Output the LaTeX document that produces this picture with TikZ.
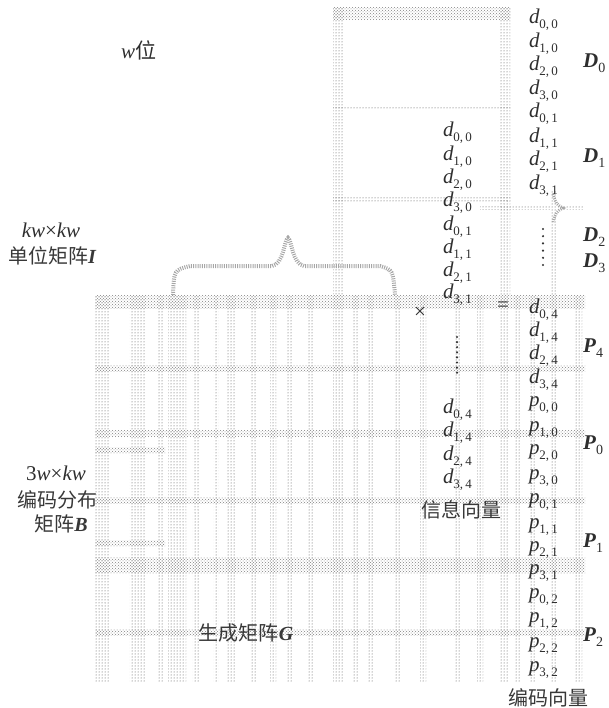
\documentclass[tikz,border=0pt]{standalone}
\usepackage{fontspec}
\usetikzlibrary{patterns}
\setmainfont{Liberation Serif}
\newfontfamily\cjk{Noto Sans CJK SC}
\newcommand{\vv}[3]{\textit{#1}\kern-0.3pt\raisebox{-0.5ex}{\fontsize{13}{13}\selectfont #2,\,#3}}
\newcommand{\bv}[2]{\textbf{\textit{#1}}\raisebox{-0.5ex}{\fontsize{14}{14}\selectfont #2}}
\newcommand{\bi}[1]{{\rmfamily\bfseries\itshape #1}}
\begin{document}
\begin{tikzpicture}[x=1pt,y=-1pt,
  dotfill/.style={pattern=dots, pattern color=black!72},
  densefill/.style={pattern=crosshatch dots, pattern color=black!50},
  lbl/.style={inner sep=0pt, text=black!82, font=\fontsize{21}{23}\selectfont},
  cj/.style={inner sep=0pt, text=black!78, font=\cjk\fontsize{20}{22}\selectfont},
  col/.style={lbl, anchor=west},
  bracepath/.style={black!35, line width=4pt, dash pattern=on 1pt off 1.2pt},
  dotcol/.style={fill=black!80, circle, inner sep=0pt, minimum size=2.4pt}]
\useasboundingbox (0,0) rectangle (609,708);
% ---------------- big matrix grid ----------------
\foreach \x/\w in {102/14,137/15,160/6,177/18,196/7,216/5,231/7,253/6,273/6,290/6,310/6,338/10,355/6,370/6,397/6,423/6,457/5,480/6,504/10,517/5,533/5,553/6,578/8}
  \fill[dotfill] ({\x-\w/2},295) rectangle ({\x+\w/2},682);
\foreach \y/\w in {302/13,368/6,433/6,500/6,565/16,632/6}
  \fill[densefill] (95,{\y-\w/2}) rectangle (585,{\y+\w/2});
\fill[densefill] (95,447) rectangle (165,453);
\fill[densefill] (95,540) rectangle (165,546);
% ---------------- upper frame ----------------
\fill[densefill] (333,8) rectangle (510,20);
\fill[dotfill] (333,8) rectangle (344,295);
\fill[dotfill] (499,8) rectangle (510,295);
\fill[dotfill] (333,106) rectangle (510,110);
\fill[dotfill] (333,198) rectangle (510,202);
\fill[dotfill] (551,190) rectangle (556,295);
\fill[dotfill] (480,206) rectangle (550,210);
\fill[dotfill] (558,206) rectangle (583,210);
\draw[bracepath, line width=3pt] (553,194) .. controls (556,204) .. (563,208) .. controls (556,212) .. (553,222);
% ---------------- brace over the identity ----------------
\draw[bracepath] (173,295) .. controls (174,270) .. (190,266) -- (272,266)
  .. controls (284,264) and (284,240) .. (288,238) .. controls (292,240) and (292,264) .. (304,266) -- (380,266)
  .. controls (393,270) .. (395,295);
% ---------------- left labels ----------------
\node[lbl, anchor=west] (wbit) at (121,50) {\textit{w}{\cjk 位}};
\node[lbl] (kwkw) at (51,230) {\textit{kw}×\textit{kw}};
\node[cj] (ident) at (52,256) {单位矩阵\bi{I}};
\node[lbl] (tw) at (56,473) {3\textit{w}×\textit{kw}};
\node[cj] (bianma) at (57,500) {编码分布};
\node[cj, anchor=east] (jzb) at (88,524) {矩阵\bi{B}};
\node[cj] (gen) at (246,633) {生成矩阵\bi{G}};
% ---------------- information vector ----------------
\node[col] (m00) at (443,133) {\vv d00};
\node[col] (m10) at (443,157) {\vv d10};
\node[col] (m20) at (443,180) {\vv d20};
\node[col] (m30) at (443,203) {\vv d30};
\node[col] (m01) at (443,227) {\vv d01};
\node[col] (m11) at (443,250) {\vv d11};
\node[col] (m21) at (443,273) {\vv d21};
\node[col] (m31) at (443,295) {\vv d31};
\foreach \i in {0,...,7} \node[dotcol] (md\i) at (457,337+5.1*\i) {};
\node[col] (m04) at (443,410) {\vv d04};
\node[col] (m14) at (443,433) {\vv d14};
\node[col] (m24) at (443,457) {\vv d24};
\node[col] (m34) at (443,480) {\vv d34};
\node[cj] (info) at (461,510) {信息向量};
\node[lbl] (times) at (420,313) {×};
\node[lbl] (eq) at (503,307) {=};
% ---------------- code vector ----------------
\node[col] (c00) at (529,20) {\vv d00};
\node[col] (c10) at (529,44) {\vv d10};
\node[col] (c20) at (529,67) {\vv d20};
\node[col] (c30) at (529,91) {\vv d30};
\node[col] (c01) at (529,114) {\vv d01};
\node[col] (c11) at (529,139) {\vv d11};
\node[col] (c21) at (529,162) {\vv d21};
\node[col] (c31) at (529,186) {\vv d31};
\foreach \i in {0,...,5} \node[dotcol] (cd\i) at (543,229+7.2*\i) {};
\node[col] (c04) at (529,310) {\vv d04};
\node[col] (c14) at (529,333) {\vv d14};
\node[col] (c24) at (529,356) {\vv d24};
\node[col] (c34) at (529,380) {\vv d34};
\node[col] (p00) at (529,405) {\vv p00};
\node[col] (p10) at (529,430) {\vv p10};
\node[col] (p20) at (529,453) {\vv p20};
\node[col] (p30) at (529,478) {\vv p30};
\node[col] (p01) at (529,502) {\vv p01};
\node[col] (p11) at (529,527) {\vv p11};
\node[col] (p21) at (529,550) {\vv p21};
\node[col] (p31) at (529,573) {\vv p31};
\node[col] (p02) at (529,597) {\vv p02};
\node[col] (p12) at (529,621) {\vv p12};
\node[col] (p22) at (529,646) {\vv p22};
\node[col] (p32) at (529,670) {\vv p32};
\node[cj] (code) at (548,698) {编码向量};
% ---------------- block labels ----------------
\node[col] (D0) at (583,63) {\bv D0};
\node[col] (D1) at (583,158) {\bv D1};
\node[col] (D2) at (583,237) {\bv D2};
\node[col] (D3) at (583,263) {\bv D3};
\node[col] (P4) at (583,348) {\bv P4};
\node[col] (P0) at (583,445) {\bv P0};
\node[col] (P1) at (583,543) {\bv P1};
\node[col] (P2) at (583,637) {\bv P2};
\end{tikzpicture}
\end{document}
